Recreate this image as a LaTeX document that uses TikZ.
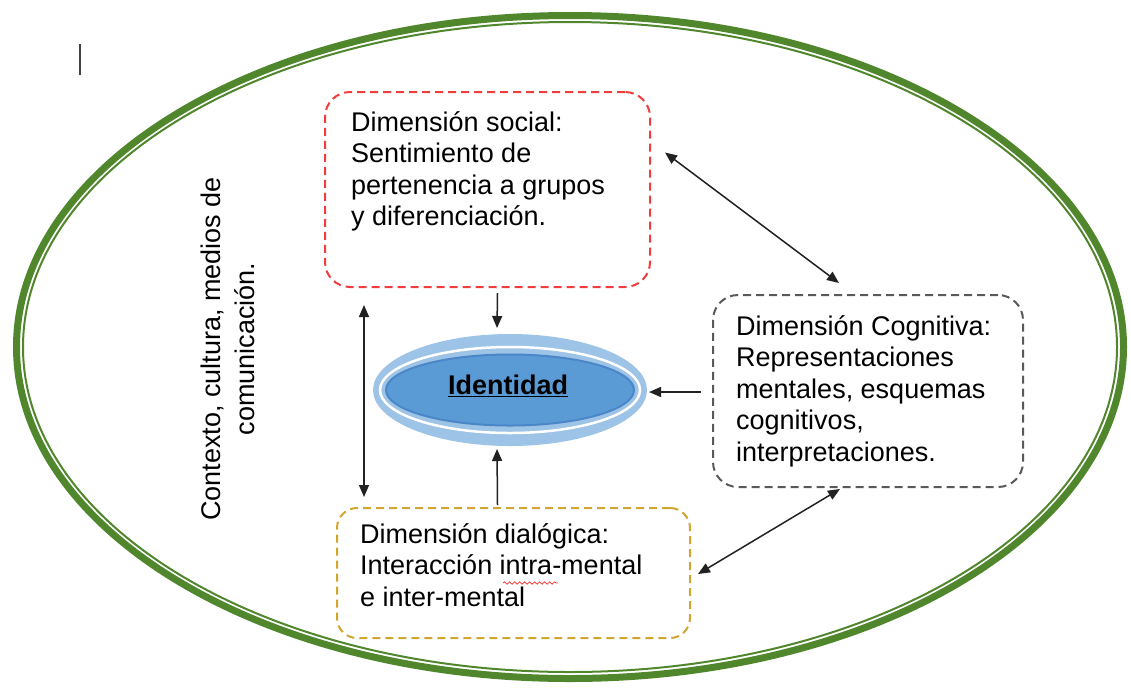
\documentclass[tikz,border=0pt]{standalone}
\usepackage{fontspec}
\setmainfont{Liberation Sans}
\usetikzlibrary{positioning,shapes.geometric,arrows.meta,decorations.pathmorphing}
\definecolor{ctxgreen}{RGB}{80,135,45}
\definecolor{socred}{HTML}{F03C3C}
\definecolor{coggray}{HTML}{595959}
\definecolor{dialgold}{HTML}{D2A52E}
\definecolor{idlight}{HTML}{9DC3E6}
\definecolor{idmid}{HTML}{5B9BD5}
\definecolor{idring}{HTML}{4A86C8}
\definecolor{arrgray}{HTML}{222222}
\newcommand{\boxfont}{\fontsize{27}{31.5}\selectfont}
\newcommand{\ctxfont}{\fontsize{27}{34}\selectfont}
\begin{document}
\begin{tikzpicture}[x=1pt, y=-1pt,
    dimbox/.style = {draw, rectangle, rounded corners=25pt, line width=2pt, dash pattern=on 8pt off 5pt},
    dimtext/.style = {inner sep=0pt, align=left, font=\boxfont},
    layer/.style = {ellipse, inner sep=0pt, outer sep=0pt},
    arr/.style = {draw=arrgray, line width=1.5pt, -{Triangle[length=12pt,width=10pt]}},
    dblarr/.style = {draw=arrgray, line width=1.5pt, {Triangle[length=12pt,width=10pt]}-{Triangle[length=12pt,width=10pt]}}]
    \useasboundingbox (0,0) rectangle (1131,689);

    \node[layer, draw=ctxgreen, line width=7pt, minimum width=1107pt, minimum height=663pt] (ringout) at (570,347) {};
    \node[layer, draw=ctxgreen, line width=2pt, minimum width=1094pt, minimum height=650pt] (ringin) at (ringout) {};
    \node[rotate=90, align=center, inner sep=0pt, font=\ctxfont] (ctx) at (228,349) {Contexto, cultura, medios de\\comunicación.};
    \draw[draw=black!75, line width=2pt] (80,44) -- (80,75);

    \node[dimbox, draw=socred, minimum width=325pt, minimum height=195pt] (social) at (487.5,189.5) {};
    \node[dimtext, below right=20pt and 27pt of social.north west] (socialtxt) {Dimensión social:\\Sentimiento de\\pertenencia a grupos\\y diferenciación.};

    \node[dimbox, draw=coggray, minimum width=310pt, minimum height=192pt] (cog) at (868,391) {};
    \node[dimtext, below right=21pt and 24pt of cog.north west] (cogtxt) {Dimensión Cognitiva:\\Representaciones\\mentales, esquemas\\cognitivos,\\interpretaciones.};

    \node[dimbox, draw=dialgold, rounded corners=20pt, minimum width=353pt, minimum height=130pt] (dial) at (513.5,573) {};
    \node[dimtext, below right=16pt and 24pt of dial.north west] (dialtxt) {Dimensión dialógica:\\Interacción intra-mental\\e inter-mental};
    \draw[socred, line width=0.8pt, decorate, decoration={snake, amplitude=1.2pt, segment length=5pt}] (503,583) -- (558,583);

    \node[layer, fill=idlight, minimum width=274pt, minimum height=112pt] (idout) at (510,390) {};
    \node[layer, draw=white, line width=2.5pt, minimum width=260pt, minimum height=86pt] (idwhite) at (idout) {};
    \node[layer, fill=idmid, draw=idring, line width=2pt, minimum width=248pt, minimum height=71pt] (idcore) at (idout) {};
    \node[font=\boxfont\bfseries, inner sep=0pt] (idlabel) at ([shift={(-2,-4)}]idout.center) {\underline{Identidad}};

    \coordinate (lefttop) at (364,305);
    \coordinate (leftbot) at (364,497);

    \draw[dblarr] ([shift={(14,-37)}]social.east) -- ([shift={(-29,-11)}]cog.north);
    \draw[arr] ([shift={(10,5)}]social.south) -- ([shift={(-13,-6)}]idout.north);
    \draw[dblarr] (lefttop) -- (leftbot);
    \draw[arr] ([shift={(-11,1)}]cog.west) -- ([shift={(2,2)}]idout.east);
    \draw[arr] ([shift={(-16,-2)}]dial.north) -- ([shift={(-13,3)}]idout.south);
    \draw[dblarr] ([shift={(-28,1)}]cog.south) -- ([shift={(7,1)}]dial.east);
\end{tikzpicture}
\end{document}
